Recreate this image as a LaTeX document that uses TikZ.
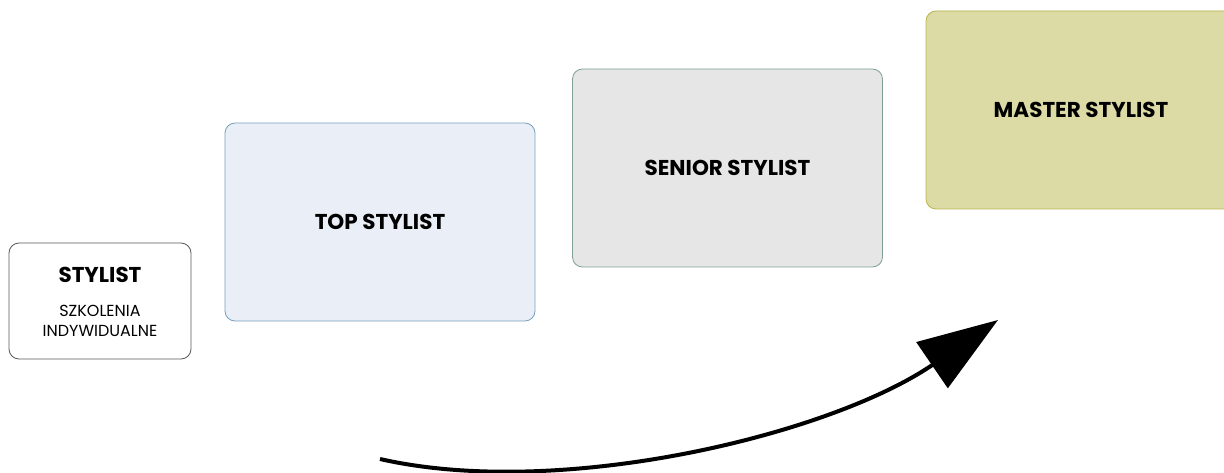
\documentclass[tikz,border=0pt]{standalone}
\usepackage{fontspec}
\setmainfont{Poppins}
\usetikzlibrary{arrows.meta}

\definecolor{topfill}{RGB}{234,238,246}
\definecolor{topline}{RGB}{120,160,190}
\definecolor{seniorfill}{RGB}{230,230,230}
\definecolor{seniorline}{RGB}{130,160,145}
\definecolor{masterfill}{RGB}{221,219,165}
\definecolor{masterline}{RGB}{185,180,75}

\begin{document}
\begin{tikzpicture}[x=1pt,y=-1pt,
  level/.style={rectangle,rounded corners=10pt,line width=0.8pt,inner sep=0pt,
    minimum width=310pt,minimum height=198pt,align=center,font=\bfseries\fontsize{21.5}{25}\selectfont},
  sub/.style={font=\fontsize{16}{20}\selectfont}]
\useasboundingbox (0,0) rectangle (1224,473);
\begin{scope}
\clip (0,0) rectangle (1224,473);

\node[level,draw=black!65,fill=white,minimum width=182pt,minimum height=116pt] (stylist) at (100,301) {};
\node[font=\bfseries\fontsize{21.5}{25}\selectfont] (stylistname) at (100,275) {STYLIST};
\node[sub,align=center] (stylistsub) at (100,321) {SZKOLENIA\\INDYWIDUALNE};

\node[level,draw=topline,fill=topfill] (top) at (380,222) {TOP STYLIST};
\node[level,draw=seniorline,fill=seniorfill] (senior) at (727.5,168) {SENIOR STYLIST};
\node[level,draw=masterline,fill=masterfill] (master) at (1081,110) {MASTER STYLIST};

% progression arrow
\coordinate (from) at (380,459);
\coordinate (to) at (998,320);
\draw[line width=4pt,-{Triangle[length=80pt,width=55pt]}] (from) .. controls (560,500) and (830,435) .. (to);
\end{scope}
\end{tikzpicture}
\end{document}
